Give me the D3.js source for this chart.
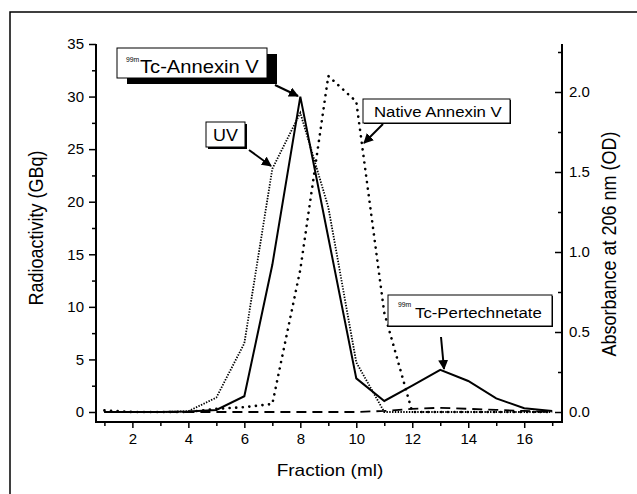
<!DOCTYPE html>
<html>
<head>
<meta charset="utf-8">
<script src="https://cdn.jsdelivr.net/npm/d3@7"></script>
<style>
  body { margin: 0; background: #fff; }
  text { font-family: "Liberation Sans", Arial, sans-serif; fill: #000; }
</style>
</head>
<body>
<div id="chart"></div>
<script>
'use strict'

var outerWidth = 637;
var outerHeight = 494;

// fractions collected (ml)
var fractions = [1, 2, 3, 4, 5, 6, 7, 8, 9, 10, 11, 12, 13, 14, 15, 16, 17];

// radioactivity, GBq (left axis)
var tcAnnexin = [0, 0, 0, 0.05, 0.2, 1.5, 14, 30, 16.6, 3.2, 1.05, 2.5, 4.0, 2.95, 1.3, 0.35, 0.1];
var tcFree = [0, 0, 0, 0, 0, 0, 0, 0, 0, 0, 0.1, 0.3, 0.4, 0.3, 0.2, 0.1, 0];

// absorbance at 206 nm, OD (right axis)
var uvSignal = [0, 0, 0, 0.005, 0.09, 0.43, 1.52, 1.87, 1.28, 0.31, 0, 0, 0, 0, 0, 0, 0];
var nativeAnnexin = [0.01, 0, 0, 0, 0.02, 0.03, 0.05, 0.89, 2.1, 1.94, 0.62, 0, 0, 0, 0, 0, 0];

var leftTicks = [0, 5, 10, 15, 20, 25, 30, 35];
var rightTicks = [0, 0.5, 1.0, 1.5, 2.0];
var xTicks = [2, 4, 6, 8, 10, 12, 14, 16];

var svg = d3.select('#chart').append('svg')
  .attr('width', outerWidth)
  .attr('height', outerHeight);

// frame round the figure
svg.append('rect')
  .attr('x', 10).attr('y', 12)
  .attr('width', outerWidth + 20).attr('height', outerHeight + 20)
  .attr('fill', 'none').attr('stroke', '#000').attr('stroke-width', 1.5);

var plot = {left: 96, right: 562, top: 44, bottom: 422};

var xScale = d3.scaleLinear().domain([0.7, 17.35]).range([plot.left, plot.right]);
var yLeft = d3.scaleLinear().domain([-0.952, 35]).range([plot.bottom, plot.top]);
var yRight = d3.scaleLinear().domain([-0.0625, 2.3]).range([plot.bottom, plot.top]);

// stretched text helper: the source figure is a bit wider than tall
function label(g, x, y, txt, size, anchor, rot, stretch) {
  var s = stretch || 1.12;
  var t = g.append('text')
    .attr('transform', 'translate(' + x + ',' + y + ')' + (rot ? ' rotate(' + rot + ') scale(1,' + s + ')' : ' scale(' + s + ',1)'))
    .attr('font-size', size)
    .attr('text-anchor', anchor || 'start')
    .text(txt);
  return t;
}

// axes
var xAxis = d3.axisBottom(xScale).tickValues(fractions).tickSize(6).tickPadding(5)
  .tickFormat(function(d){ return xTicks.indexOf(d) >= 0 ? d : ''; });
var gx = svg.append('g').attr('transform', 'translate(0,' + plot.bottom + ')').call(xAxis);
gx.selectAll('.tick line').attr('y2', function(d){ return d % 2 === 0 ? 6 : 4; });

var leftAll = d3.range(0, 35.1, 2.5);
var yAxisL = d3.axisLeft(yLeft).tickValues(leftAll).tickSize(7).tickPadding(5)
  .tickFormat(function(d){ return leftTicks.indexOf(d) >= 0 ? d : ''; });
var gl = svg.append('g').attr('transform', 'translate(' + plot.left + ',0)').call(yAxisL);
gl.selectAll('.tick line').attr('x2', function(d){ return d % 5 === 0 ? -7 : -4; });

var rightAll = d3.range(0, 2.3, 0.25);
var yAxisR = d3.axisRight(yRight).tickValues(rightAll).tickSize(0).tickPadding(7)
  .tickFormat(function(d){ return rightTicks.indexOf(d) >= 0 ? d3.format('.1f')(d) : ''; });
var gr = svg.append('g').attr('transform', 'translate(' + plot.right + ',0)').call(yAxisR);
gr.selectAll('.tick line').attr('x2', function(d){ return Math.round(d * 100) % 50 === 0 ? -7 : -4; });

[gx, gl, gr].forEach(function(g){
  g.attr('font-size', 15).attr('font-family', '"Liberation Sans", Arial, sans-serif');
  g.select('.domain').remove();
  g.selectAll('.tick line').attr('stroke-width', 1.5);
});
// axis lines drawn as one path so they meet in the corners
svg.append('path')
  .attr('d', 'M' + plot.left + ',' + plot.top + 'V' + plot.bottom + 'H' + plot.right + 'V' + plot.top)
  .attr('fill', 'none').attr('stroke', '#000').attr('stroke-width', 2);

// series
function lineFor(scale) {
  return d3.line()
    .x(function(d, i){ return xScale(fractions[i]); })
    .y(function(d){ return scale(d); });
}

svg.append('path').datum(tcFree)
  .attr('d', lineFor(yLeft)).attr('fill', 'none').attr('stroke', '#000')
  .attr('stroke-width', 1.8).attr('stroke-dasharray', '10,6');

svg.append('path').datum(uvSignal)
  .attr('d', lineFor(yRight)).attr('fill', 'none').attr('stroke', '#000')
  .attr('stroke-width', 1.8).attr('stroke-dasharray', '1.4,1.4');

svg.append('path').datum(nativeAnnexin)
  .attr('d', lineFor(yRight)).attr('fill', 'none').attr('stroke', '#000')
  .attr('stroke-width', 2.6).attr('stroke-linecap', 'round').attr('stroke-dasharray', '0.1,6.5');

svg.append('path').datum(tcAnnexin)
  .attr('d', lineFor(yLeft)).attr('fill', 'none').attr('stroke', '#000')
  .attr('stroke-width', 2);

// axis titles
label(svg, 330, 476, 'Fraction (ml)', 17, 'middle');
label(svg, 43, 228, 'Radioactivity (GBq)', 18, 'middle', -90);
label(svg, 616, 244, 'Absorbance at 206 nm (OD)', 18, 'middle', -90);

// annotations
svg.append('defs').append('marker')
  .attr('id', 'head').attr('viewBox', '0 0 10 10').attr('refX', 9).attr('refY', 5)
  .attr('markerWidth', 5).attr('markerHeight', 5).attr('orient', 'auto-start-reverse')
  .attr('markerUnits', 'strokeWidth')
  .append('path').attr('d', 'M0,0L10,5L0,10z').attr('fill', '#000');

function box(x, y, w, h, shadow) {
  if (shadow) {
    svg.append('rect').attr('x', x + shadow[0]).attr('y', y + shadow[1])
      .attr('width', w).attr('height', h).attr('fill', '#000');
  }
  svg.append('rect').attr('x', x).attr('y', y).attr('width', w).attr('height', h)
    .attr('fill', '#fff').attr('stroke', '#000').attr('stroke-width', 1);
}
function arrow(x1, y1, x2, y2) {
  svg.append('line').attr('x1', x1).attr('y1', y1).attr('x2', x2).attr('y2', y2)
    .attr('stroke', '#000').attr('stroke-width', 2).attr('marker-end', 'url(#head)');
}

box(117, 48, 150, 30, [10, 6]);
label(svg, 126, 62, '99m', 8, 'start', 0, 0.85);
label(svg, 140, 73, 'Tc-Annexin V', 18);
arrow(275, 85, 298, 96);

box(206, 122, 39, 25, [2, 2]);
label(svg, 213, 141, 'UV', 16);
arrow(249, 150, 271, 166);

box(363, 99, 147, 24, [1, 1]);
label(svg, 374, 117, 'Native Annexin V', 15);
arrow(383, 124, 364, 143);

box(388, 295, 164, 31, [1, 1]);
label(svg, 398, 307, '99m', 8, 'start', 0, 0.85);
label(svg, 415, 318, 'Tc-Pertechnetate', 15);
arrow(441, 337, 444, 369);
</script>
</body>
</html>
